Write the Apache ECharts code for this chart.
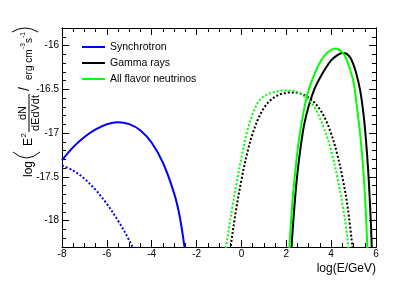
<!DOCTYPE html>
<html><head><meta charset="utf-8">
<script src="https://cdn.jsdelivr.net/npm/echarts@6/dist/echarts.min.js"></script>
<style>html,body{margin:0;padding:0;background:#fff}#c{width:413px;height:281px}</style>
</head><body><div id="c"></div>
<script>
// ---- data (log10 values) ----
const xTicks = [-8, -6, -4, -2, 0, 2, 4, 6];
const yTicks = [-18, -17.5, -17, -16.5, -16];
const seriesNames = ['Synchrotron', 'Gamma rays', 'All flavor neutrinos'];
const xTitle = 'log(E/GeV)';

const synchrotronSolid = [[-8,-17.31],[-7.5,-17.16],[-7,-17.045],[-6.5,-16.958],[-6,-16.898],[-5.5,-16.875],[-5,-16.898],[-4.5,-16.97],[-4,-17.11],[-3.5,-17.338],[-3,-17.688],[-2.75,-17.955],[-2.5,-18.37],[-2.4,-18.6]];
const synchrotronDotted = [[-8,-17.37],[-7.5,-17.428],[-7,-17.52],[-6.5,-17.648],[-6,-17.808],[-5.5,-18.0],[-5,-18.225],[-4.5,-18.5]];
const gammaSolid = [[2.20,-18.45],[2.24,-18.28],[2.30,-18.05],[2.40,-17.72],[2.50,-17.45],[2.65,-17.14],[2.80,-16.90],[3.00,-16.69],[3.25,-16.50],[3.50,-16.37],[3.75,-16.26],[4.00,-16.17],[4.25,-16.115],[4.50,-16.085],[4.70,-16.095],[4.90,-16.16],[5.10,-16.30],[5.30,-16.52],[5.45,-16.80],[5.55,-17.07],[5.65,-17.42],[5.72,-17.75],[5.78,-18.08],[5.81,-18.30],[5.83,-18.45]];
const gammaDotted = [[-0.6,-18.56],[-0.5,-18.335],[-0.25,-17.895],[0,-17.535],[0.25,-17.235],[0.5,-17.005],[0.75,-16.835],[1,-16.715],[1.25,-16.635],[1.5,-16.585],[1.75,-16.555],[2,-16.54],[2.25,-16.535],[2.5,-16.54],[2.75,-16.56],[3,-16.595],[3.25,-16.65],[3.5,-16.73],[3.75,-16.845],[4,-17.005],[4.25,-17.22],[4.5,-17.5],[4.75,-17.87],[5,-18.42]];
const neutrinoSolid = [[2.10,-18.45],[2.14,-18.30],[2.20,-18.05],[2.30,-17.70],[2.40,-17.44],[2.55,-17.10],[2.70,-16.86],[2.90,-16.60],[3.10,-16.43],[3.30,-16.30],[3.55,-16.17],[3.80,-16.09],[4.00,-16.05],[4.20,-16.033],[4.40,-16.055],[4.60,-16.11],[4.80,-16.24],[5.00,-16.42],[5.15,-16.70],[5.30,-17.03],[5.40,-17.31],[5.48,-17.60],[5.55,-17.92],[5.60,-18.22],[5.62,-18.32],[5.65,-18.5]];
const neutrinoDotted = [[-0.75,-18.45],[-0.68,-18.30],[-0.56,-18.09],[-0.41,-17.85],[-0.19,-17.535],[0.04,-17.23],[0.26,-16.975],[0.56,-16.74],[0.86,-16.61],[1.30,-16.545],[1.90,-16.514],[2.34,-16.52],[2.72,-16.565],[3.09,-16.645],[3.39,-16.77],[3.69,-16.95],[3.99,-17.19],[4.29,-17.52],[4.51,-17.82],[4.66,-18.07],[4.76,-18.29],[4.82,-18.45]];

// ---- styling / layout ----
const FONT = '"Liberation Sans", Arial, sans-serif';
const X_MIN = -8, X_MAX = 6, Y_MIN = -18.3, Y_MAX = -15.8;
const yMinor = [];
for (let i = Math.round(Y_MIN * 10); i <= Math.round(Y_MAX * 10); i++) {
  const v = i / 10;
  if (Math.abs(v * 2 - Math.round(v * 2)) > 1e-6) yMinor.push(v);
}
const BLUE = '#0000ff', BLACK = '#000000', GREEN = '#00ff00';

function xAx(pos, labels) {
  return {
    type: 'value', position: pos, min: X_MIN, max: X_MAX, interval: 2,
    axisLine: { show: true, onZero: false, lineStyle: { color: '#000', width: 1 } },
    axisTick: { show: true, inside: true, length: 7, lineStyle: { color: '#000' } },
    minorTick: { show: true, splitNumber: 4, length: 4, lineStyle: { color: '#000' } },
    axisLabel: { show: labels, color: '#000', fontSize: 10, fontFamily: FONT, margin: 2 },
    splitLine: { show: false }, minorSplitLine: { show: false }
  };
}
function yAx(pos, labels, values, len) {
  return {
    type: 'value', position: pos, min: Y_MIN, max: Y_MAX,
    axisLine: { show: true, onZero: false, lineStyle: { color: '#000', width: 1 } },
    axisTick: { show: true, inside: true, length: len, customValues: values, lineStyle: { color: '#000' } },
    axisLabel: { show: labels, customValues: values, color: '#000', fontSize: 10, fontFamily: FONT, margin: 3 },
    splitLine: { show: false }
  };
}
function line(name, data, color, dotted) {
  return {
    type: 'line', name: name, data: data, xAxisIndex: 0, yAxisIndex: 0,
    symbol: 'none', showSymbol: false, smooth: 0.35, clip: true, silent: true,
    color: color, itemStyle: { color: color },
    lineStyle: { color: color, width: 2, type: dotted ? [2, 2] : 'solid' }
  };
}

const T = (text, x, y, fs, align) => ({
  type: 'text', x: x, y: y,
  style: { text: text, fontSize: fs, fontFamily: FONT, fill: '#000',
    textAlign: align || 'left', align: align || 'left',
    textVerticalAlign: 'middle', verticalAlign: 'middle' }
});
const yTitle = {
  type: 'group', x: 33, y: 177, rotation: Math.PI / 2,
  children: [
    T('log', 0, -4.2, 12),
    { type: 'bezierCurve', shape: { x1: 25, y1: -20, x2: 25, y2: 7, cpx1: 13, cpy1: -6.5 }, style: { stroke: '#000', lineWidth: 1, fill: null } },
    T('E', 31, -4.2, 12),
    T('2', 39.5, -9, 8),
    T('dN', 64, -9.9, 11, 'center'),
    { type: 'line', shape: { x1: 45, y1: -4, x2: 83, y2: -4 }, style: { stroke: '#000', lineWidth: 1 } },
    T('dEdVdt', 64, 2.6, 11, 'center'),
    T('/', 86, -8, 14),
    T('erg cm', 97, -3.5, 10),
    T('-3', 128, -9.3, 6.5),
    T('s', 134, -3.5, 10),
    T('-1', 139, -9.3, 6.5),
    { type: 'bezierCurve', shape: { x1: 145, y1: -21, x2: 145, y2: 5, cpx1: 153, cpy1: -8 }, style: { stroke: '#000', lineWidth: 1, fill: null } }
  ]
};

const chart = echarts.init(document.getElementById('c'), null, { renderer: 'canvas' });
chart.setOption({
  animation: false,
  backgroundColor: '#fff',
  textStyle: { fontFamily: FONT },
  grid: { left: 62, top: 28, width: 314, height: 219, containLabel: false, outerBoundsMode: 'none', show: false },
  legend: {
    data: seriesNames, orient: 'vertical', left: 82, top: 40, padding: 0,
    icon: 'rect', itemWidth: 23, itemHeight: 2, itemGap: 2,
    textStyle: { color: '#000', fontSize: 10.5, fontFamily: FONT, lineHeight: 14 },
    selectedMode: false
  },
  xAxis: [xAx('bottom', true), xAx('top', false)],
  yAxis: [yAx('left', true, yTicks, 7), yAx('right', false, yTicks, 7), yAx('left', false, yMinor, 4), yAx('right', false, yMinor, 4)],
  series: [
    line(seriesNames[0], synchrotronSolid, BLUE, false),
    line(seriesNames[0], synchrotronDotted, BLUE, true),
    line(seriesNames[1], gammaSolid, BLACK, false),
    line(seriesNames[1], gammaDotted, BLACK, true),
    line(seriesNames[2], neutrinoSolid, GREEN, false),
    line(seriesNames[2], neutrinoDotted, GREEN, true)
  ],
  graphic: [
    yTitle,
    { type: 'text', right: 413 - 376, top: 263, style: { text: xTitle, fontSize: 12, fontFamily: FONT, fill: '#000' } }
  ]
});
</script>
</body></html>
